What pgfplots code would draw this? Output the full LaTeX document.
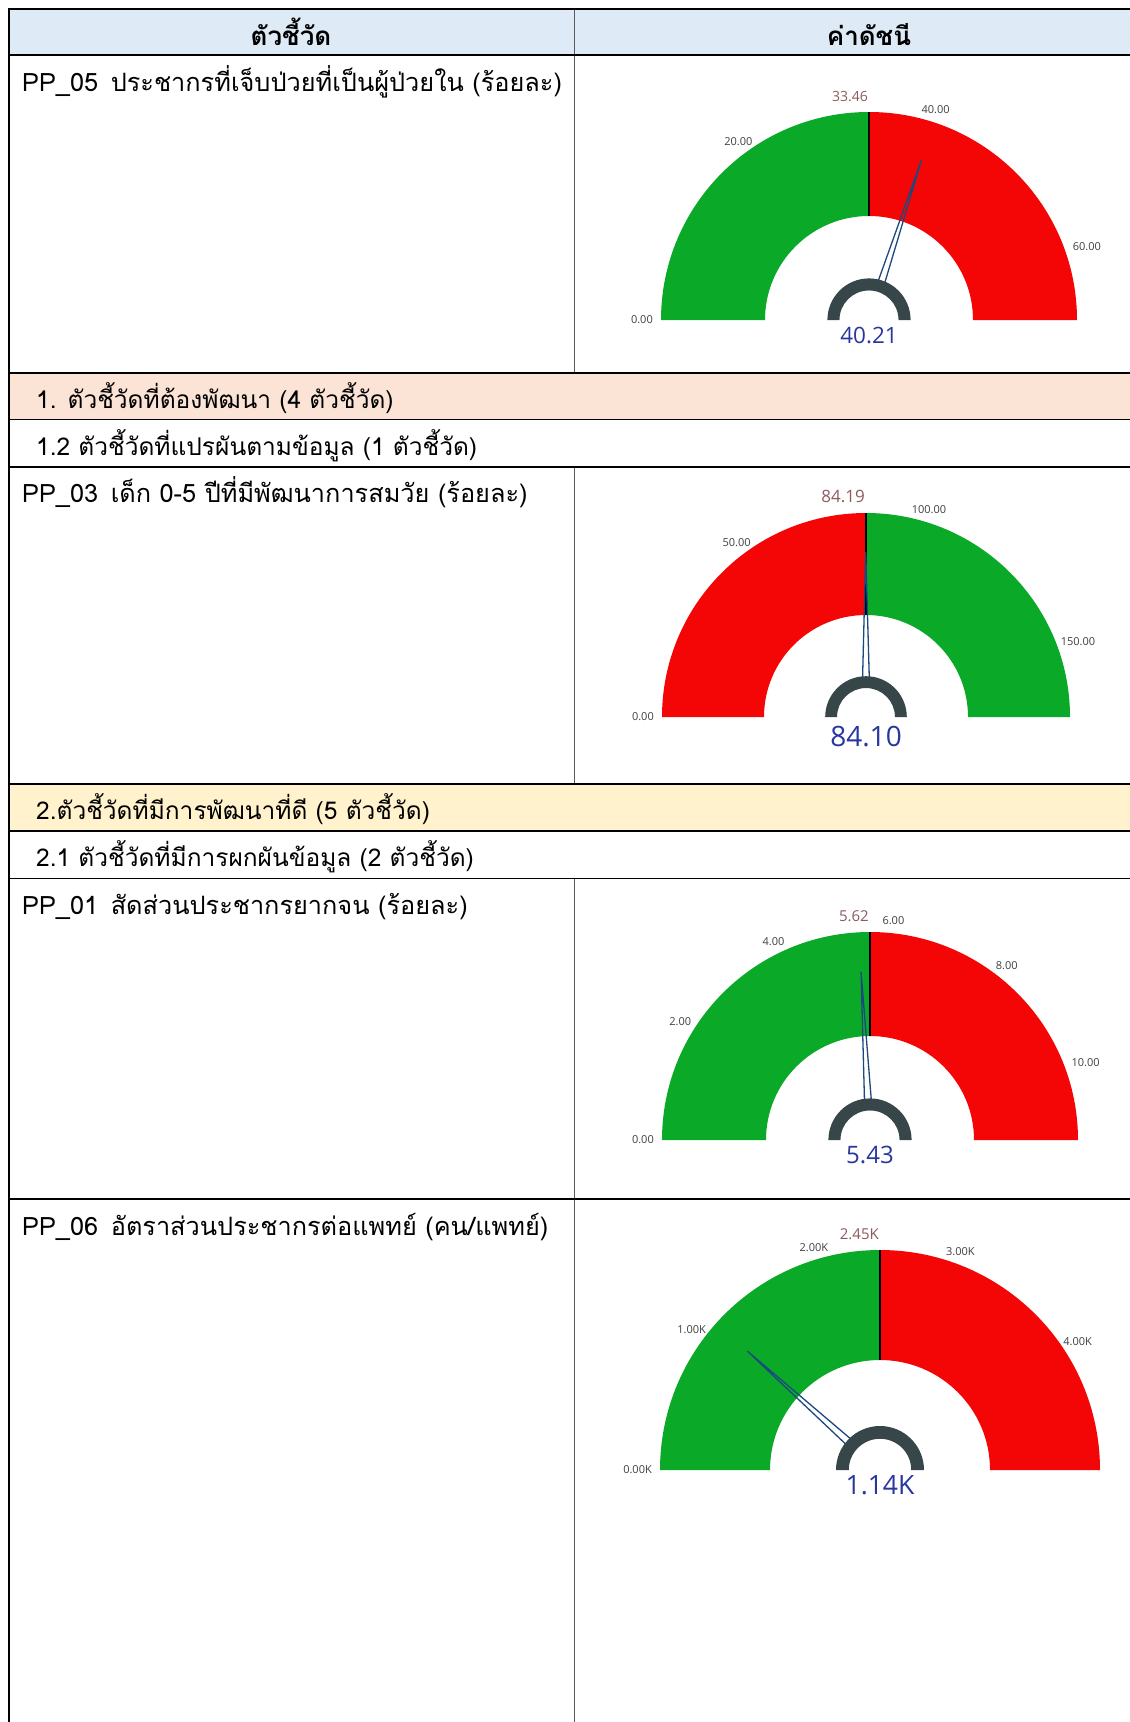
\documentclass[border=0pt]{standalone}
\usepackage{pgfplots}
\pgfplotsset{compat=1.18}
\usepackage{fontspec}
\setmainfont[Script=Thai]{Loma}
\newfontfamily\gfont{Open Sans}

\definecolor{gGreen}{RGB}{10,170,40}
\definecolor{gRed}{RGB}{245,6,6}
\definecolor{hub}{RGB}{55,70,73}
\definecolor{needle}{RGB}{28,72,128}
\definecolor{tgt}{RGB}{140,90,95}
\definecolor{val}{RGB}{40,55,160}
\definecolor{tick}{RGB}{64,64,64}
\definecolor{hdr}{RGB}{222,234,246}
\definecolor{sec1}{RGB}{251,228,214}
\definecolor{sec2}{RGB}{255,242,204}
\definecolor{divider}{RGB}{90,90,90}

% gauge: #1 cx, #2 baseline y, #3 outer radius, #4 max, #5 value, #6 low colour, #7 high colour
\newcommand{\gauge}[7]{%
\begin{axis}[at={(#1pt,-#2pt)}, anchor=south, x=#3pt, y=#3pt,
  xmin=-1, xmax=1, ymin=0, ymax=1, hide axis, clip=false]
  \fill[#6] (axis cs:-1,0) arc[start angle=180, end angle=90, radius=#3pt]
    -- (axis cs:0,0.5) arc[start angle=90, end angle=180, radius=0.5*#3pt] -- cycle;
  \fill[#7] (axis cs:1,0) arc[start angle=0, end angle=90, radius=#3pt]
    -- (axis cs:0,0.5) arc[start angle=90, end angle=0, radius=0.5*#3pt] -- cycle;
  \draw[black, line width=1.6pt] (axis cs:0,0.5) -- (axis cs:0,1);
  \addplot[needle, line width=1.3pt, no marks] table[row sep=\\,
    x expr={\thisrow{r}*cos(180-180*(\thisrow{v}/#4))+\thisrow{o}*cos(270-180*(\thisrow{v}/#4))},
    y expr={\thisrow{r}*sin(180-180*(\thisrow{v}/#4))+\thisrow{o}*sin(270-180*(\thisrow{v}/#4))}]
    {v r o\\ #5 0.17 -0.017\\ #5 0.81 0\\ #5 0.17 0.017\\};
  \fill[hub] (axis cs:-0.2,0) arc[start angle=180, end angle=0, radius=0.2*#3pt]
    -- (axis cs:0.142,0) arc[start angle=0, end angle=180, radius=0.142*#3pt] -- cycle;
\end{axis}}

% tick labels: #1 cx, #2 baseline y, #3 radius, #4 max, #5 list value/label
\newcommand{\gticks}[5]{%
  \foreach \v/\l in {#5} {
    \pgfmathsetmacro\ang{180-180*(\v/#4)}
    \pgfmathsetmacro\anc{\ang+180}
    \pgfmathsetmacro\rr{#3+8}
    \node[anchor=\anc, inner sep=0pt, text=tick, font=\gfont\fontsize{11}{13}\selectfont]
      at ([shift={(\ang:\rr pt)}] #1pt,-#2pt) {\l};
  }}

\newcommand{\cell}[3]{\node[anchor=base west, inner sep=0pt, font=\fontsize{24.5}{28}\selectfont] at (#1pt,-#2pt) {#3};}
\newcommand{\pcell}[4]{\node[anchor=base west, inner sep=0pt, font=\fontsize{25.3}{29}\selectfont] at (#1pt,-#2pt) {#3\hspace{0.5em}#4};}

\begin{document}
\begin{tikzpicture}
\useasboundingbox (0,0) rectangle (1130pt,-1722pt);
\fill[white] (0,0) rectangle (1130pt,-1722pt);

% row fills
\fill[hdr] (9pt,-9pt) rectangle (1130pt,-55pt);
\fill[sec1] (9pt,-373pt) rectangle (1130pt,-419.5pt);
\fill[sec2] (9pt,-784pt) rectangle (1130pt,-831pt);

% grid
\draw[divider, line width=1pt] (574pt,-9pt) -- (574pt,-373pt);
\draw[divider, line width=1pt] (574pt,-467pt) -- (574pt,-784pt);
\draw[divider, line width=1pt] (574pt,-878.5pt) -- (574pt,-1722pt);
\draw[black, line width=1.5pt] (9pt,-9pt) -- (9pt,-1722pt);
\draw[black, line width=2.5pt] (8pt,-9pt) -- (1130pt,-9pt);
\draw[black, line width=1.5pt] (9pt,-55pt) -- (1130pt,-55pt);
\draw[black, line width=2pt] (9pt,-373pt) -- (1130pt,-373pt);
\draw[black, line width=1.3pt] (9pt,-419.5pt) -- (1130pt,-419.5pt);
\draw[black, line width=1.3pt] (9pt,-467pt) -- (1130pt,-467pt);
\draw[black, line width=2pt] (9pt,-784pt) -- (1130pt,-784pt);
\draw[black, line width=1.5pt] (9pt,-831pt) -- (1130pt,-831pt);
\draw[black, line width=1.3pt] (9pt,-878.5pt) -- (1130pt,-878.5pt);
\draw[black, line width=1.3pt] (9pt,-1199pt) -- (1130pt,-1199pt);

% gauges
\gauge{869}{320}{208}{66.92}{40.21}{gGreen}{gRed}
\gauge{866}{717}{204}{168.38}{84.10}{gRed}{gGreen}
\gauge{870}{1140}{208}{11.24}{5.43}{gGreen}{gRed}
\gauge{880}{1470}{220}{4900}{1140}{gGreen}{gRed}

\gticks{869}{320}{208}{66.92}{0/0.00,20/20.00,40/40.00,60/60.00}
\gticks{866}{717}{204}{168.38}{0/0.00,50/50.00,100/100.00,150/150.00}
\gticks{870}{1140}{208}{11.24}{0/0.00,2/2.00,4/4.00,6/6.00,8/8.00,10/10.00}
\gticks{880}{1470}{220}{4900}{0/0.00K,1000/1.00K,2000/2.00K,3000/3.00K,4000/4.00K}

% target and value labels
\begin{scope}[every node/.style={inner sep=0pt}]
\node[anchor=base east, text=tgt, font=\gfont\fontsize{14}{16}\selectfont] at (868pt,-101pt) {33.46};
\node[anchor=base east, text=tgt, font=\gfont\fontsize{17}{19}\selectfont] at (865pt,-502pt) {84.19};
\node[anchor=base east, text=tgt, font=\gfont\fontsize{15}{17}\selectfont] at (869pt,-921pt) {5.62};
\node[anchor=base east, text=tgt, font=\gfont\fontsize{15}{17}\selectfont] at (879pt,-1239pt) {2.45K};
\node[anchor=north, text=val, font=\gfont\fontsize{22.5}{25}\selectfont] at (869pt,-327pt) {40.21};
\node[anchor=north, text=val, font=\gfont\fontsize{28}{31}\selectfont] at (866pt,-726pt) {84.10};
\node[anchor=north, text=val, font=\gfont\fontsize{24}{27}\selectfont] at (870pt,-1146pt) {5.43};
\node[anchor=north, text=val, font=\gfont\fontsize{26.5}{29}\selectfont] at (880pt,-1475pt) {1.14K};
\end{scope}

% table text
\node[anchor=base, inner sep=0pt, font=\bfseries\fontsize{26}{30}\selectfont] at (291pt,-45pt) {ตัวชี้วัด};
\node[anchor=base, inner sep=0pt, font=\bfseries\fontsize{26}{30}\selectfont] at (869pt,-45pt) {ค่าดัชนี};
\pcell{22}{91}{PP\_05}{ประชากรที่เจ็บป่วยที่เป็นผู้ป่วยใน (ร้อยละ)}
\cell{36}{408}{1. ตัวชี้วัดที่ต้องพัฒนา (4 ตัวชี้วัด)}
\cell{36}{455}{1.2 ตัวชี้วัดที่แปรผันตามข้อมูล (1 ตัวชี้วัด)}
\pcell{22}{502}{PP\_03}{เด็ก 0-5 ปีที่มีพัฒนาการสมวัย (ร้อยละ)}
\cell{36}{819}{2.ตัวชี้วัดที่มีการพัฒนาที่ดี (5 ตัวชี้วัด)}
\cell{36}{866}{2.1 ตัวชี้วัดที่มีการผกผันข้อมูล (2 ตัวชี้วัด)}
\pcell{22}{914}{PP\_01}{สัดส่วนประชากรยากจน (ร้อยละ)}
\pcell{22}{1235}{PP\_06}{อัตราส่วนประชากรต่อแพทย์ (คน/แพทย์)}
\end{tikzpicture}
\end{document}
